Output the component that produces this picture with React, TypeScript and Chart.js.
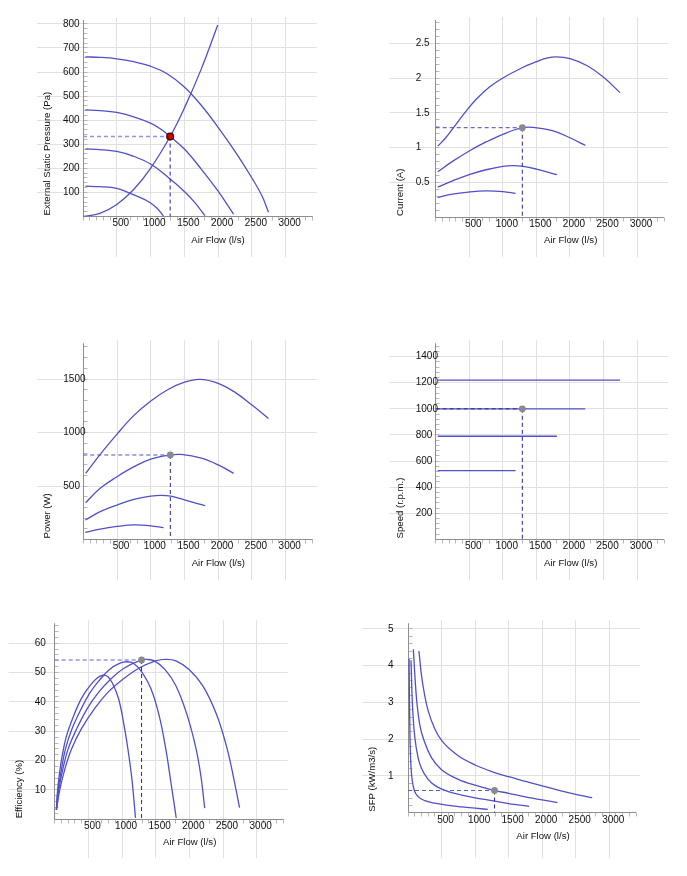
import React, { useEffect, useRef } from 'react';
import { Chart, registerables } from 'chart.js';

Chart.register(...registerables);

type Pt = [number, number];

// ---------- shared x axis ----------
const flowTicks = [500, 1000, 1500, 2000, 2500, 3000];
const flowMax = 3400;
const flowMinorStep = 100;
const flowTitle = 'Air Flow (l/s)';

// ---------- operating point ----------
const opFlow = 1290;
const opPressure = 332;
const opCurrent = 1.285;
const opPower = 790;
const opSpeed = 1000;
const opEfficiency = 54.3;
const opSfp = 0.605;

// ---------- External static pressure (Pa) ----------
const pressureTicks = [100, 200, 300, 400, 500, 600, 700, 800];
const pressure1220: Pt[] = [[35, 663], [250, 661], [500, 655], [750, 643], [1000, 624], [1250, 592], [1500, 538], [1750, 462], [2000, 370], [2250, 270], [2500, 160], [2650, 85], [2745, 18]];
const pressure1000: Pt[] = [[35, 443], [250, 440], [500, 432], [750, 414], [1000, 388], [1150, 363], [1290, 332], [1500, 280], [1750, 197], [2000, 105], [2228, 10]];
const pressure790: Pt[] = [[35, 281], [250, 278], [500, 270], [750, 250], [1000, 218], [1250, 165], [1500, 104], [1650, 60], [1805, 4]];
const pressure530: Pt[] = [[35, 126], [250, 124], [500, 117], [700, 96], [900, 72], [1000, 56], [1100, 33], [1190, 2]];
const systemCurve: Pt[] = [[0, 0], [250, 13], [500, 50], [750, 112], [1000, 200], [1290, 332], [1500, 450], [1750, 612], [1995, 795]];

// ---------- Current (A) ----------
const currentTicks = [0.5, 1, 1.5, 2, 2.5];
const current1220: Pt[] = [[30, 1.02], [150, 1.14], [300, 1.33], [450, 1.52], [600, 1.69], [800, 1.87], [1000, 2.0], [1250, 2.13], [1500, 2.235], [1650, 2.285], [1790, 2.305], [2000, 2.28], [2250, 2.18], [2500, 2.01], [2745, 1.79]];
const current1000: Pt[] = [[30, 0.65], [250, 0.8], [500, 0.95], [750, 1.08], [1000, 1.19], [1290, 1.285], [1450, 1.29], [1750, 1.24], [2000, 1.14], [2228, 1.03]];
const current790: Pt[] = [[30, 0.43], [250, 0.52], [500, 0.61], [750, 0.68], [1000, 0.73], [1150, 0.74], [1300, 0.73], [1500, 0.69], [1805, 0.61]];
const current530: Pt[] = [[30, 0.28], [250, 0.33], [500, 0.36], [750, 0.375], [1000, 0.365], [1190, 0.34]];

// ---------- Power (W) ----------
const powerTicks = [500, 1000, 1500];
const power1220: Pt[] = [[35, 618], [250, 796], [500, 985], [750, 1160], [1000, 1295], [1250, 1400], [1500, 1470], [1725, 1497], [2000, 1460], [2250, 1375], [2500, 1257], [2745, 1132]];
const power1000: Pt[] = [[35, 344], [250, 478], [500, 587], [750, 681], [1000, 752], [1290, 790], [1450, 795], [1750, 760], [2000, 697], [2228, 618]];
const power790: Pt[] = [[30, 182], [250, 260], [500, 322], [750, 375], [1000, 405], [1150, 413], [1300, 405], [1500, 370], [1805, 316]];
const power530: Pt[] = [[30, 67], [250, 98], [500, 122], [750, 136], [1000, 128], [1190, 111]];

// ---------- Speed (r.p.m.) ----------
const speedTicks = [200, 400, 600, 800, 1000, 1200, 1400];
const speed1220: Pt[] = [[30, 1220], [2745, 1220]];
const speed1000: Pt[] = [[30, 1000], [2228, 1000]];
const speed790: Pt[] = [[30, 790], [1805, 790]];
const speed530: Pt[] = [[30, 527], [1190, 527]];

// ---------- Efficiency (%) ----------
const efficiencyTicks = [10, 20, 30, 40, 50, 60];
const efficiency1220: Pt[] = [[25, 3.2], [75, 10], [150, 17], [250, 24], [400, 31], [600, 38], [800, 43.5], [1000, 47.5], [1250, 51.5], [1500, 54], [1650, 54.5], [1800, 54], [2000, 51], [2200, 45.5], [2400, 36], [2550, 25], [2650, 15], [2745, 4]];
const efficiency1000: Pt[] = [[25, 3.2], [60, 10], [120, 17], [200, 24], [330, 31], [490, 38], [660, 43.5], [820, 47.5], [1030, 51.5], [1290, 54.3], [1360, 54.5], [1480, 54], [1640, 51], [1800, 45.5], [1960, 36], [2090, 25], [2170, 15], [2228, 3.8]];
const efficiency790: Pt[] = [[25, 3.2], [50, 10], [100, 17], [160, 24], [260, 31], [390, 37.5], [520, 43], [650, 47], [810, 51], [970, 53.2], [1070, 53.7], [1170, 53.2], [1300, 50], [1430, 44.5], [1550, 35.5], [1650, 24], [1730, 12], [1805, 0.5]];
const efficiency530: Pt[] = [[25, 3.2], [40, 9], [70, 15.5], [110, 21.5], [170, 28], [260, 34], [350, 39], [430, 42.5], [540, 46], [640, 48.3], [718, 49.1], [790, 48.6], [860, 46.3], [950, 41], [1030, 32], [1100, 22], [1150, 13], [1200, 0.5]];

// ---------- SFP (kW/m3/s) ----------
const sfpTicks = [1, 2, 3, 4, 5];
const sfp1220: Pt[] = [[163, 4.4], [200, 3.75], [250, 3.18], [300, 2.78], [400, 2.28], [500, 1.97], [750, 1.55], [1000, 1.3], [1250, 1.12], [1500, 0.98], [1750, 0.855], [2000, 0.73], [2250, 0.61], [2500, 0.503], [2745, 0.41]];
const sfp1000: Pt[] = [[80, 4.45], [100, 3.8], [130, 3.04], [175, 2.4], [250, 1.91], [350, 1.5], [500, 1.17], [750, 0.91], [1000, 0.75], [1290, 0.605], [1500, 0.53], [1750, 0.434], [2000, 0.349], [2228, 0.277]];
const sfp790: Pt[] = [[45, 4.15], [60, 3.2], [80, 2.5], [100, 2.07], [150, 1.5], [200, 1.21], [300, 0.91], [400, 0.745], [600, 0.575], [800, 0.48], [1000, 0.405], [1250, 0.33], [1500, 0.247], [1805, 0.175]];
const sfp530: Pt[] = [[16, 4.19], [22, 3.0], [30, 2.0], [40, 1.4], [55, 1.0], [75, 0.75], [100, 0.58], [150, 0.44], [250, 0.33], [400, 0.26], [600, 0.2], [800, 0.16], [1000, 0.125], [1190, 0.09]];

// ---------- panel layout (page coordinates) ----------
interface Panel {
  left: number; top: number; width: number; height: number;
  plot: [number, number, number, number];
  gridBottom: number;
  yMax: number; yTicks: number[]; yMinorStep: number; yTitle: string;
  series: Pt[][]; curve: 'bezier' | 'monotone' | 'straight';
  op: Pt; opFill: string; opBorder: string; opBorderWidth: number; opRadius: number;
  hDashColor: string; hDashWidth: number;
}

const curveColor = '#5050c8';
const vDashColor = '#25259c';

const panels: Panel[] = [
  {
    left: 0, top: 0, width: 343, height: 292, plot: [83, 20, 312.7, 216.5], gridBottom: 257,
    yMax: 816, yTicks: pressureTicks, yMinorStep: 20, yTitle: 'External Static Pressure (Pa)',
    series: [pressure1220, pressure1000, pressure790, pressure530, systemCurve], curve: 'bezier',
    op: [opFlow, opPressure], opFill: '#d40000', opBorder: '#3a0808', opBorderWidth: 1.3, opRadius: 3.4,
    hDashColor: '#9494e2', hDashWidth: 1.4,
  },
  {
    left: 343, top: 0, width: 344, height: 292, plot: [435.7, 20, 664, 217], gridBottom: 257,
    yMax: 2.835, yTicks: currentTicks, yMinorStep: 0.1, yTitle: 'Current (A)',
    series: [current1220, current1000, current790, current530], curve: 'bezier',
    op: [opFlow, opCurrent], opFill: '#8a8a8a', opBorder: '#8a8a8a', opBorderWidth: 0, opRadius: 3.4,
    hDashColor: '#4545b4', hDashWidth: 1,
  },
  {
    left: 0, top: 292, width: 343, height: 292, plot: [83.3, 343.3, 312.7, 539.5], gridBottom: 580,
    yMax: 1834, yTicks: powerTicks, yMinorStep: 100, yTitle: 'Power (W)',
    series: [power1220, power1000, power790, power530], curve: 'bezier',
    op: [opFlow, opPower], opFill: '#8a8a8a', opBorder: '#8a8a8a', opBorderWidth: 0, opRadius: 3.4,
    hDashColor: '#5050bc', hDashWidth: 1,
  },
  {
    left: 343, top: 292, width: 344, height: 292, plot: [435.7, 343.3, 664, 539.4], gridBottom: 580,
    yMax: 1502, yTicks: speedTicks, yMinorStep: 40, yTitle: 'Speed (r.p.m.)',
    series: [speed1220, speed1000, speed790, speed530], curve: 'straight',
    op: [opFlow, opSpeed], opFill: '#8a8a8a', opBorder: '#8a8a8a', opBorderWidth: 0, opRadius: 3.4,
    hDashColor: '#2a2a8e', hDashWidth: 1,
  },
  {
    left: 0, top: 584, width: 343, height: 292, plot: [54.7, 623.3, 283.6, 819.3], gridBottom: 858,
    yMax: 66.8, yTicks: efficiencyTicks, yMinorStep: 2, yTitle: 'Efficiency (%)',
    series: [efficiency1220, efficiency1000, efficiency790, efficiency530], curve: 'bezier',
    op: [opFlow, opEfficiency], opFill: '#8a8a8a', opBorder: '#8a8a8a', opBorderWidth: 0, opRadius: 3.4,
    hDashColor: '#9494e2', hDashWidth: 1.4,
  },
  {
    left: 343, top: 584, width: 344, height: 292, plot: [408, 623.3, 636.1, 812.75], gridBottom: 858,
    yMax: 5.155, yTicks: sfpTicks, yMinorStep: 0.2, yTitle: 'SFP (kW/m3/s)',
    series: [sfp1220, sfp1000, sfp790, sfp530], curve: 'monotone',
    op: [opFlow, opSfp], opFill: '#8a8a8a', opBorder: '#8a8a8a', opBorderWidth: 0, opRadius: 3.4,
    hDashColor: '#5a5ac4', hDashWidth: 1.2,
  },
];

const toXY = (pts: Pt[]) => pts.map(([x, y]) => ({ x, y }));
const snap = (v: number) => Math.floor(v) + 0.5;
const FONT = '10px "Liberation Sans", Arial, sans-serif';
const TITLE_FONT = '9.6px "Liberation Sans", Arial, sans-serif';

function framePlugin(p: Panel) {
  return {
    id: 'frame',
    beforeDatasetsDraw(chart: any) {
      const ctx: CanvasRenderingContext2D = chart.ctx;
      const xs = chart.scales.x;
      const ys = chart.scales.y;
      const a = chart.chartArea;
      const gb = p.gridBottom - p.top;
      ctx.save();
      ctx.lineWidth = 1;
      ctx.strokeStyle = '#e1e1e1';
      ctx.beginPath();
      for (const v of flowTicks) {
        const x = snap(xs.getPixelForValue(v));
        ctx.moveTo(x, a.top - 3);
        ctx.lineTo(x, gb);
      }
      for (const v of p.yTicks) {
        const y = snap(ys.getPixelForValue(v));
        ctx.moveTo(a.left - 46, y);
        ctx.lineTo(a.right + 4, y);
      }
      ctx.stroke();

      const xl = snap(a.left);
      const yb = snap(a.bottom);
      ctx.strokeStyle = '#b8b8b8';
      ctx.beginPath();
      for (let i = 0; i * flowMinorStep <= flowMax + 1e-6; i++) {
        const x = snap(xs.getPixelForValue(i * flowMinorStep));
        ctx.moveTo(x, yb);
        ctx.lineTo(x, yb + 4);
      }
      for (let i = 1; i * p.yMinorStep <= p.yMax + 1e-9; i++) {
        const y = snap(ys.getPixelForValue(i * p.yMinorStep));
        ctx.moveTo(xl, y);
        ctx.lineTo(xl + 4, y);
      }
      ctx.stroke();

      ctx.strokeStyle = '#8e8e8e';
      ctx.beginPath();
      ctx.moveTo(xl, a.top);
      ctx.lineTo(xl, yb);
      ctx.lineTo(a.right, yb);
      ctx.stroke();
      ctx.restore();
    },
    afterDraw(chart: any) {
      const ctx: CanvasRenderingContext2D = chart.ctx;
      const xs = chart.scales.x;
      const ys = chart.scales.y;
      const a = chart.chartArea;
      ctx.save();
      ctx.fillStyle = '#111111';
      ctx.font = FONT;
      ctx.textBaseline = 'middle';
      ctx.textAlign = 'center';
      for (const v of flowTicks) ctx.fillText(String(v), xs.getPixelForValue(v) + 4, a.bottom + 7);
      ctx.textAlign = 'left';
      for (const v of p.yTicks) ctx.fillText(String(v), a.left - 20, ys.getPixelForValue(v));
      ctx.font = TITLE_FONT;
      ctx.textAlign = 'center';
      ctx.fillText(flowTitle, a.left + 135, a.bottom + 23.5);
      ctx.translate(a.left - 35.5, a.bottom - 1);
      ctx.rotate(-Math.PI / 2);
      ctx.textAlign = 'left';
      ctx.fillText(p.yTitle, 0, 0);
      ctx.restore();
    },
  };
}

function ChartPanel({ p }: { p: Panel }) {
  const ref = useRef<HTMLCanvasElement | null>(null);
  useEffect(() => {
    const canvas = ref.current;
    if (!canvas) return;
    const [pl, pt, pr, pb] = p.plot;
    const [ox, oy] = p.op;
    const curveOpts =
      p.curve === 'monotone'
        ? { cubicInterpolationMode: 'monotone', tension: 0 }
        : p.curve === 'bezier'
        ? { cubicInterpolationMode: 'default', tension: 0.4 }
        : { cubicInterpolationMode: 'default', tension: 0 };
    const datasets: any[] = [
      {
        data: toXY([p.op]), showLine: false, pointRadius: p.opRadius,
        pointBackgroundColor: p.opFill, pointBorderColor: p.opBorder, pointBorderWidth: p.opBorderWidth,
        borderColor: p.opBorder,
      },
      {
        data: toXY([[ox, oy], [ox, 0]]), borderColor: vDashColor, borderWidth: 1,
        borderDash: [4, 3], pointRadius: 0, tension: 0,
      },
      {
        data: toXY([[0, oy], [ox, oy]]), borderColor: p.hDashColor, borderWidth: p.hDashWidth,
        borderDash: [4, 3], pointRadius: 0, tension: 0,
      },
      ...p.series.map((s) => ({
        data: toXY(s), borderColor: curveColor, borderWidth: 1.3, pointRadius: 0, fill: false,
        ...curveOpts,
      })),
    ];
    const chart = new Chart(canvas, {
      type: 'line',
      data: { datasets },
      options: {
        responsive: false,
        animation: false,
        events: [],
        layout: {
          autoPadding: false,
          padding: {
            left: pl - p.left,
            top: pt - p.top,
            right: p.left + p.width - pr,
            bottom: p.top + p.height - pb,
          },
        },
        plugins: { legend: { display: false }, tooltip: { enabled: false } },
        scales: {
          x: { type: 'linear', min: 0, max: flowMax, display: false },
          y: { type: 'linear', min: 0, max: p.yMax, display: false },
        },
      } as any,
      plugins: [framePlugin(p) as any],
    });
    return () => chart.destroy();
  }, [p]);
  return (
    <canvas
      ref={ref}
      width={p.width}
      height={p.height}
      style={{ position: 'absolute', left: p.left, top: p.top, width: p.width, height: p.height }}
    />
  );
}

export default function App() {
  return (
    <div>
      {panels.map((p, i) => (
        <ChartPanel key={i} p={p} />
      ))}
    </div>
  );
}
